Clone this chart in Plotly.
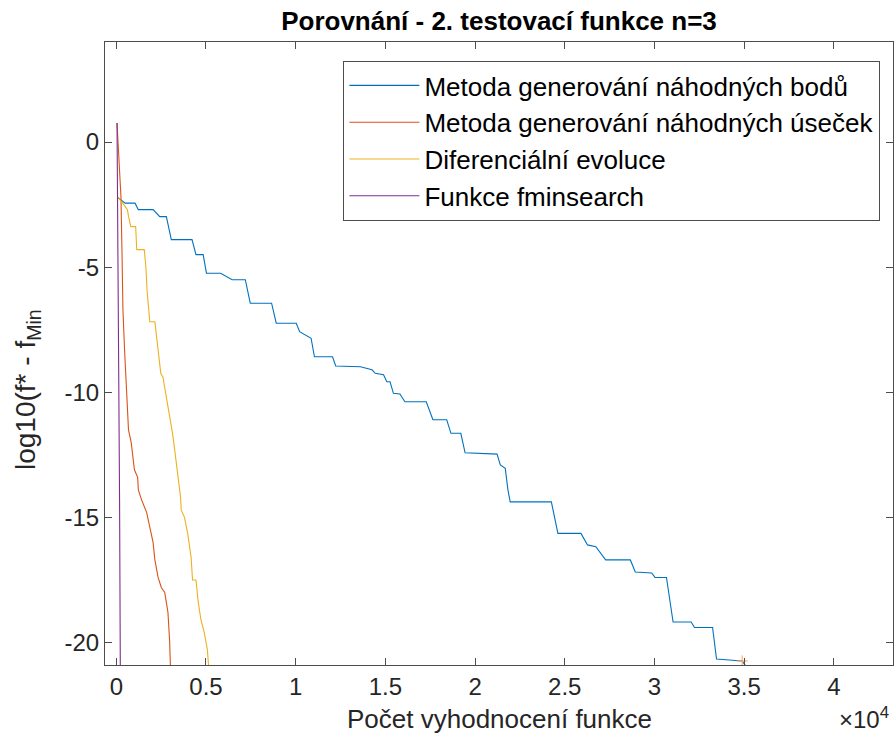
import plotly.graph_objects as go

# ---- data ----
names = ["Metoda generování náhodných bodů",
         "Metoda generování náhodných úseček",
         "Diferenciální evoluce",
         "Funkce fminsearch"]
colors = ["#0072BD", "#D95319", "#EDB120", "#7E2F8E"]

blue_x = [60, 127, 495, 1046, 1227, 2053, 2422, 2790, 3066, 4221, 4441, 4843, 5025, 5817,
          6456, 7193, 7468, 8657, 8916, 10033, 10220, 10859, 11046, 12053, 12235, 13610,
          14254, 14436, 14898, 15080, 15261, 15448, 15812, 16087, 17281, 17650, 18420,
          18657, 19207, 19444, 21227, 21409, 21684, 21833, 21959, 24254, 24618, 25905,
          26269, 26731, 27281, 28657, 28932, 29846, 30033, 30671, 31040, 32047, 32234,
          33242, 33462, 34161, 34893, 35350]
blue_y = [-2.2, -2.24, -2.44, -2.44, -2.7, -2.7, -2.98, -2.98, -3.9, -3.9, -4.5, -4.5, -5.24, -5.24,
          -5.5, -5.5, -6.44, -6.44, -7.24, -7.24, -7.58, -7.84, -8.58, -8.58, -8.95, -8.98,
          -9.1, -9.24, -9.3, -9.58, -9.58, -10.04, -10.07, -10.38, -10.38, -11.1, -11.1,
          -11.64, -11.64, -12.42, -12.47, -12.9, -13.04, -13.9, -14.38, -14.38, -15.64, -15.64,
          -16.1, -16.17, -16.7, -16.7, -17.18, -17.22, -17.4, -17.4, -19.18, -19.18, -19.4,
          -19.4, -20.66, -20.7, -20.74, -21.2]

orange_x = [40, 180, 260, 315, 370, 460, 550, 680, 830, 1010, 1190, 1230, 1410, 1690, 1870,
            2050, 2150, 2330, 2510, 2700, 2790, 2880, 2970, 3030]
orange_y = [0.76, -1.4, -2.2, -4.3, -6.7, -8.3, -9.8, -11.5, -12.0, -13.1, -13.4, -13.9, -14.3,
            -14.8, -15.4, -16.0, -16.7, -17.4, -17.8, -18.0, -18.4, -18.8, -19.9, -21.2]

yellow_x = [60, 130, 500, 620, 680, 810, 1080, 1140, 1560, 1650, 1720, 1870, 2150, 2330, 2480,
            2600, 2790, 2970, 3120, 3210, 3340, 3430, 3580, 3620, 3800, 3980, 4170, 4250,
            4440, 4570, 4720, 4900, 5080, 5150]
yellow_y = [-2.2, -2.24, -2.58, -2.7, -2.97, -3.38, -3.38, -4.3, -4.3, -5.0, -5.98, -7.18, -7.18,
            -8.3, -9.24, -9.4, -10.18, -10.84, -11.58, -12.04, -12.84, -13.38, -14.18, -14.7,
            -15.0, -15.64, -16.6, -17.5, -17.5, -18.4, -19.1, -19.6, -20.3, -21.0]

purple_x = [40, 94, 182, 225]
purple_y = [0.76, -4.3, -14.3, -21.2]

x_tickvals = [0, 5000, 10000, 15000, 20000, 25000, 30000, 35000, 40000]
x_ticktext = ["0", "0.5", "1", "1.5", "2", "2.5", "3", "3.5", "4"]
y_tickvals = [0, -5, -10, -15, -20]
y_ticktext = ["0", "-5", "-10", "-15", "-20"]

title = "Porovnání - 2. testovací funkce n=3"
xlabel = "Počet vyhodnocení funkce"
ylabel = "log10(f* - f<sub>Min</sub>"
xexp = "×10<sup>4</sup>"

FONT = "Liberation Sans, Arial, Helvetica, sans-serif"
TXT = "#262626"
AX = "#4d4d4d"

series = [(blue_x, blue_y), (orange_x, orange_y), (yellow_x, yellow_y), (purple_x, purple_y)]

fig = go.Figure()
for (xs, ys), nm, c in zip(series, names, colors):
    fig.add_trace(go.Scatter(x=xs, y=ys, mode="lines", name=nm,
                             line=dict(color=c, width=1.1)))
# small '+' marker near the end of the blue curve
fig.add_trace(go.Scatter(x=[blue_x[-2]], y=[blue_y[-2]], mode="markers", showlegend=False,
                         marker=dict(symbol="cross-thin-open", size=8,
                                     line=dict(color="#0072BD", width=1))))

fig.update_layout(
    width=896, height=744,
    margin=dict(l=105, r=3, t=42, b=79, autoexpand=False),
    paper_bgcolor="white", plot_bgcolor="white",
    font=dict(family=FONT, color=TXT, size=24),
    title=dict(text="<b>" + title + "</b>", x=0.5, xref="paper", xanchor="center",
               y=1 - 21 / 744, yref="container", yanchor="middle",
               font=dict(family=FONT, size=26, color="#000000")),
    showlegend=True,
    legend=dict(x=0.984, y=0.9695, xanchor="right", yanchor="top",
                bgcolor="white", bordercolor=AX, borderwidth=1,
                font=dict(family=FONT, size=26, color="#000000"),
                itemwidth=70, tracegroupgap=0),
)
fig.update_xaxes(range=[-630, 43300], tickvals=x_tickvals, ticktext=x_ticktext,
                 ticks="inside", ticklen=7, tickwidth=1, tickcolor=AX,
                 showline=True, linecolor=AX, linewidth=1, mirror="ticks",
                 showgrid=False, zeroline=False,
                 tickfont=dict(family=FONT, size=24, color=TXT))
fig.update_yaxes(range=[-20.9, 4.0], tickvals=y_tickvals, ticktext=y_ticktext,
                 ticks="inside", ticklen=7, tickwidth=1, tickcolor=AX,
                 showline=True, linecolor=AX, linewidth=1, mirror="ticks",
                 showgrid=False, zeroline=False,
                 tickfont=dict(family=FONT, size=24, color=TXT))

fig.add_annotation(text=xlabel, xref="paper", yref="paper", x=0.5, y=-(719 - 665) / 623,
                   yanchor="middle", showarrow=False,
                   font=dict(family=FONT, size=26, color=TXT))
fig.add_annotation(text=xexp, xref="paper", yref="paper",
                   x=(864 - 105) / 788, y=-(718 - 665) / 623,
                   xanchor="center", yanchor="middle", showarrow=False,
                   font=dict(family=FONT, size=24, color=TXT))
fig.add_annotation(text=ylabel, xref="paper", yref="paper",
                   x=-(105 - 27) / 788, y=(665 - 390) / 623, textangle=-90,
                   xanchor="center", yanchor="middle", showarrow=False,
                   font=dict(family=FONT, size=28, color=TXT))

fig.write_html("out.html")
